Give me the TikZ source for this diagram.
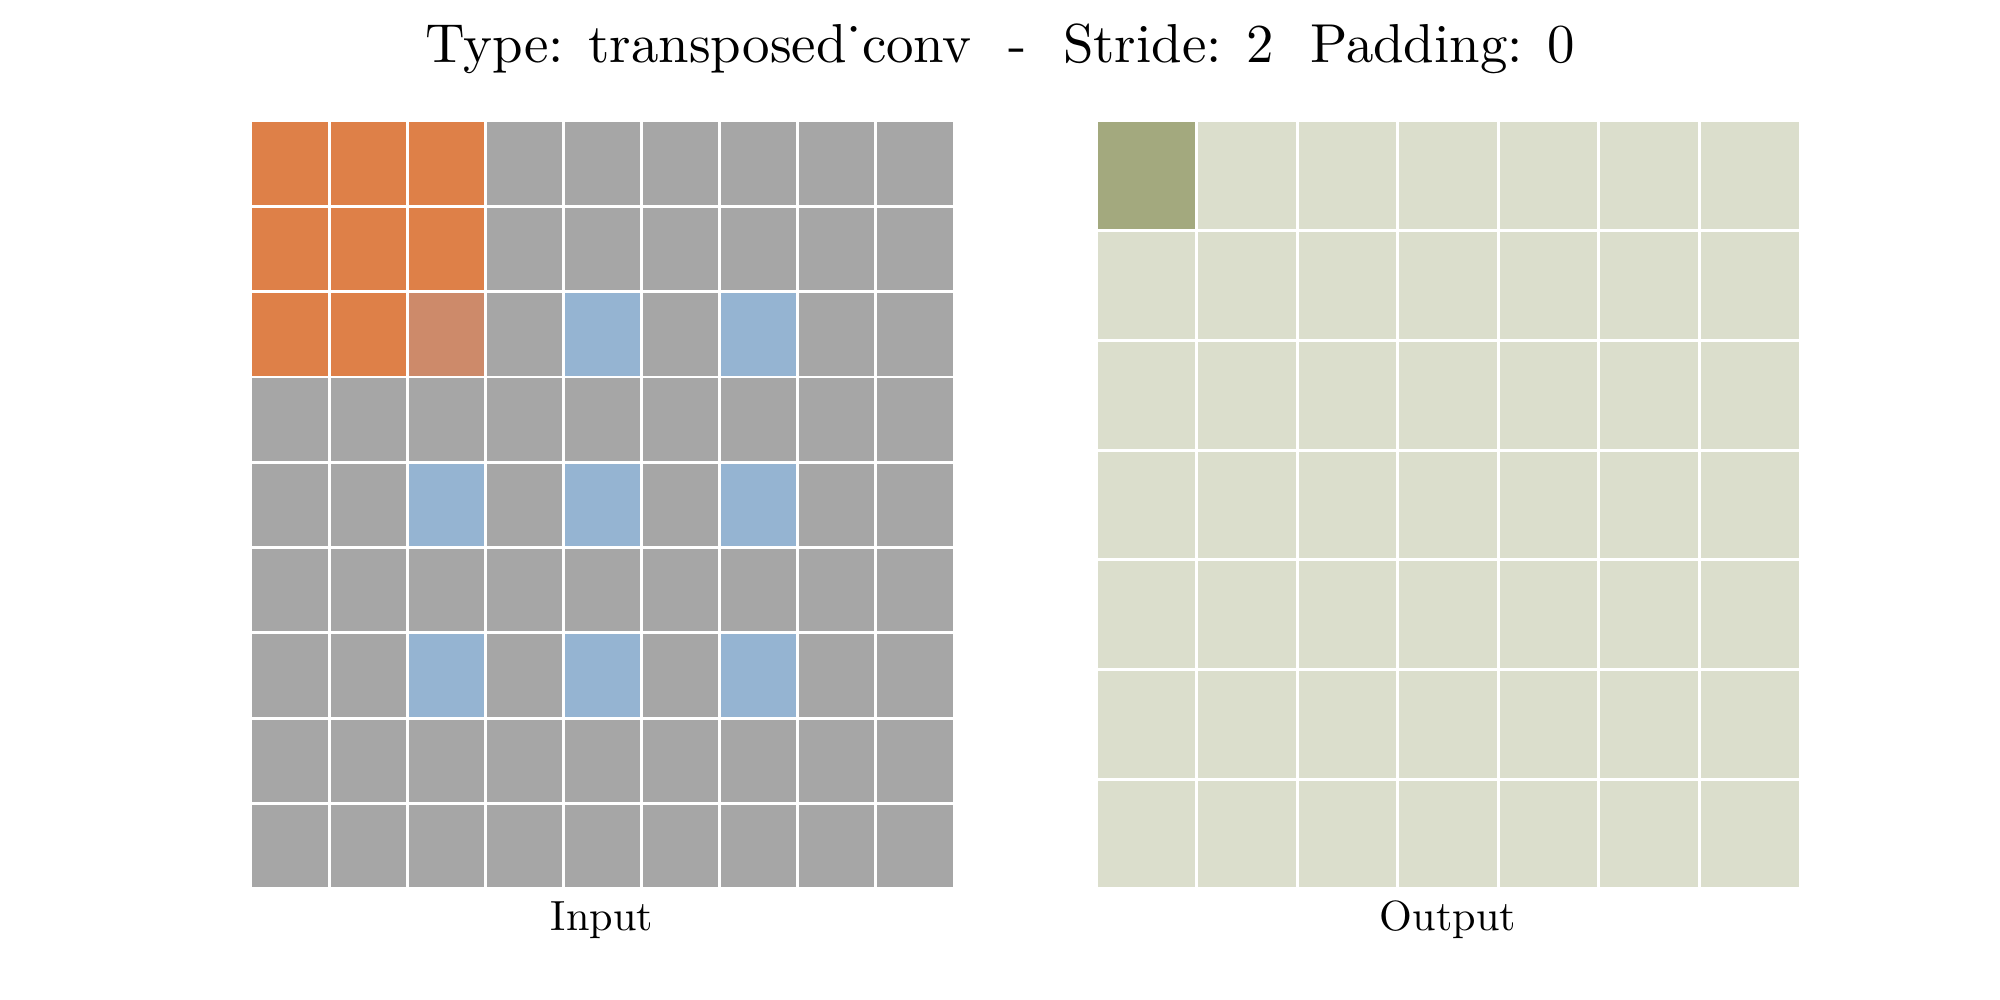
\documentclass[tikz,border=0pt]{standalone}
\usepackage{fontspec}
\setmainfont{lmroman10-regular.otf}
\usepackage{xcolor}
\usepackage{tikz}
\usetikzlibrary{positioning}

\definecolor{kernorange}{RGB}{222,128,72}
\definecolor{kernmix}{RGB}{205,138,106}
\definecolor{ingray}{RGB}{166,166,166}
\definecolor{inblue}{RGB}{149,180,210}
\definecolor{outlight}{RGB}{219,222,204}
\definecolor{outdark}{RGB}{163,169,126}

\begin{document}
\begin{tikzpicture}[x=0.01cm, y=-0.01cm]
\tikzstyle{cellgrid} = [draw=white, line width=0.85pt]
\tikzstyle{caption} = [font=\fontsize{12}{14}\selectfont, anchor=base]
\tikzstyle{heading} = [font=\fontsize{15.6}{19}\selectfont, anchor=base]

\useasboundingbox (0,0) rectangle (2000,1000);

% input 9x9
\fill [ingray] (251,121) rectangle (954,889);
\foreach \r/\c in {2/4, 2/6, 4/2, 4/4, 4/6, 6/2, 6/4, 6/6}
  \fill [inblue] (251+\c*78.11,121+\r*85.33) rectangle ++(78.11,85.33);
\foreach \r in {0,1,2}
  \foreach \c in {0,1,2}
    \fill [kernorange] (251+\c*78.11,121+\r*85.33) rectangle ++(78.11,85.33);
\fill [kernmix] (251+2*78.11,121+2*85.33) rectangle ++(78.11,85.33);
\foreach \i in {0,...,9} {
  \draw [cellgrid] (251+\i*78.11,121) -- (251+\i*78.11,889);
  \draw [cellgrid] (251,121+\i*85.33) -- (954,121+\i*85.33);
}

% output 7x7
\fill [outlight] (1096,121) rectangle (1800,889);
\fill [outdark] (1096,121) rectangle ++(100.57,109.71);
\foreach \i in {0,...,7} {
  \draw [cellgrid] (1096+\i*100.57,121) -- (1096+\i*100.57,889);
  \draw [cellgrid] (1096,121+\i*109.71) -- (1800,121+\i*109.71);
}

\node [heading] (title) at (1000,62) {Type: transposed\symbol{"02D9}conv\ \ -\ \ Stride: 2\ \ Padding: 0};
\node [caption] (inlabel) at (602,930) {Input};
\node [caption] (outlabel) at (1448,930) {Output};
\end{tikzpicture}
\end{document}
